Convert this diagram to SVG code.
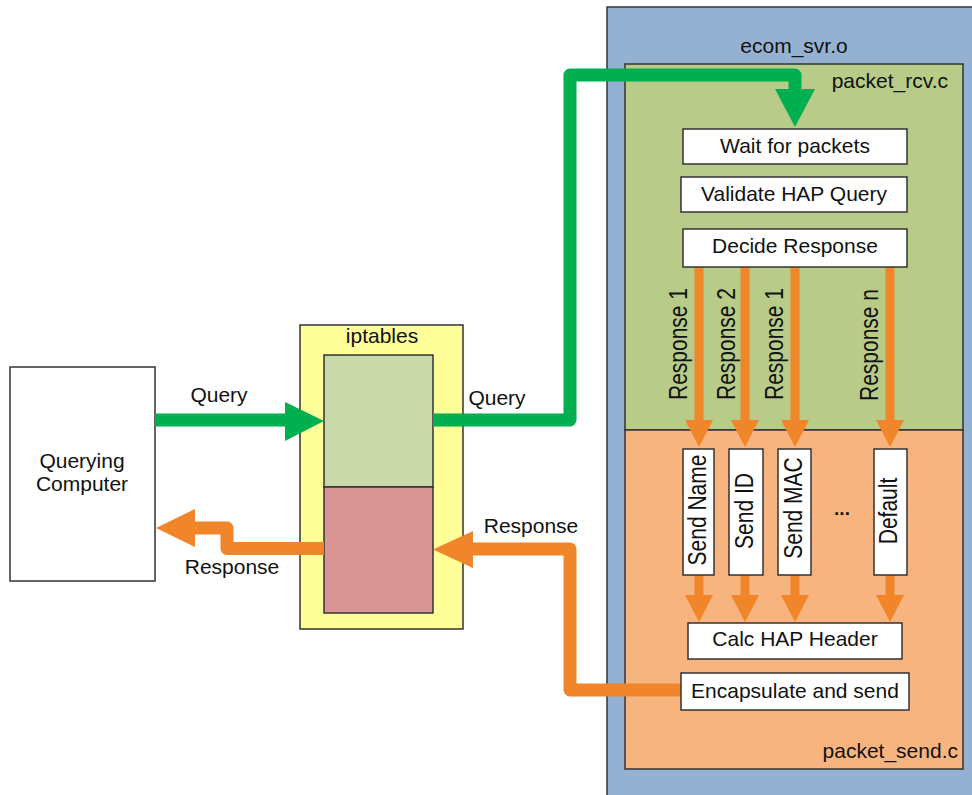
<svg xmlns="http://www.w3.org/2000/svg" width="972" height="795" viewBox="0 0 972 795">
  <style>
    text { font-family: "Liberation Sans", Arial, sans-serif; font-size: 21px; fill: #111; }
    .mid { text-anchor: middle; }
    .end { text-anchor: end; }
    .box { stroke: #333; stroke-width: 1.5; }
    .white { fill: #fff; }
    .gline { fill: none; stroke: #00B050; stroke-width: 13; stroke-linejoin: round; }
    .oline { fill: none; stroke: #F0852A; stroke-width: 13; stroke-linejoin: round; }
    .oshaft { fill: none; stroke: #F0852A; stroke-width: 9; }
    .ghead { fill: #00B050; }
    .ohead { fill: #F0852A; }
  </style>
  <defs>
    <!-- downward arrow head, tip at origin -->
    <polygon id="downHead" points="-14,-27 14,-27 0,0"/>
  </defs>

  <rect width="972" height="795" fill="#fff"/>

  <!-- server object -->
  <g id="ecom_svr">
    <rect class="box" x="607" y="7" width="372" height="800" fill="#95B1D1"/>
    <text class="mid" x="794" y="53">ecom_svr.o</text>
  </g>

  <g id="packet_rcv">
    <rect class="box" x="625" y="64" width="338" height="366" fill="#B8CB89"/>
    <text class="end" x="948" y="88">packet_rcv.c</text>
  </g>

  <g id="packet_send">
    <rect class="box" x="625" y="430" width="338" height="339" fill="#F8B47E"/>
    <text class="end" x="958" y="758">packet_send.c</text>
  </g>

  <!-- client -->
  <g id="querying_computer">
    <rect class="box white" x="10" y="367" width="145" height="214"/>
    <text class="mid" x="82" y="468">Querying</text>
    <text class="mid" x="82" y="491">Computer</text>
  </g>

  <!-- firewall -->
  <g id="iptables">
    <rect class="box" x="300" y="325" width="163" height="304" fill="#FFFF99"/>
    <text class="mid" x="382" y="343">iptables</text>
    <rect class="box" x="324" y="355" width="109" height="132" fill="#C9D9AA"/>
    <rect class="box" x="324" y="487" width="109" height="126" fill="#D99694"/>
  </g>

  <!-- connectors -->
  <g id="connectors">
    <!-- query into firewall -->
    <path class="gline" d="M155,420 H287"/>
    <polygon class="ghead" points="285,402 324,421 285,441"/>
    <!-- query from firewall to the receiver -->
    <path class="gline" d="M433,420 H570 V75 H795 V92"/>
    <polygon class="ghead" points="775,89 815,89 795,127"/>
    <!-- response back to firewall -->
    <path class="oline" d="M681,690 H570 V549 H471"/>
    <polygon class="ohead" points="473,531 473,568 433,549.5"/>
    <!-- response back to client -->
    <path class="oline" d="M324,548.5 H227 V528 H193"/>
    <polygon class="ohead" points="195,509 195,547 156,528"/>

    <!-- decision fan-out -->
    <path class="oshaft" d="M699,267 V422 M745,267 V422 M795,267 V422 M890,267 V422"/>
    <use href="#downHead" class="ohead" x="699" y="447"/>
    <use href="#downHead" class="ohead" x="745" y="447"/>
    <use href="#downHead" class="ohead" x="795" y="447"/>
    <use href="#downHead" class="ohead" x="890" y="447"/>

    <!-- into header calculation -->
    <path class="oshaft" d="M699,575 V596 M745,575 V596 M795,575 V596 M890,575 V596"/>
    <use href="#downHead" class="ohead" x="699" y="622"/>
    <use href="#downHead" class="ohead" x="745" y="622"/>
    <use href="#downHead" class="ohead" x="795" y="622"/>
    <use href="#downHead" class="ohead" x="890" y="622"/>

    <!-- connector labels -->
    <text class="mid" x="219" y="402">Query</text>
    <text class="mid" x="497" y="405">Query</text>
    <text class="mid" x="531" y="533">Response</text>
    <text class="mid" x="232" y="574">Response</text>
    <text class="mid" transform="translate(687,344) rotate(-90) scale(1,1.25)">Response 1</text>
    <text class="mid" transform="translate(735,344) rotate(-90) scale(1,1.25)">Response 2</text>
    <text class="mid" transform="translate(783,344) rotate(-90) scale(1,1.25)">Response 1</text>
    <text class="mid" transform="translate(878,345) rotate(-90) scale(1,1.25)">Response n</text>
  </g>

  <!-- receive steps -->
  <g id="wait_for_packets">
    <rect class="box white" x="683" y="129" width="224" height="35"/>
    <text class="mid" x="795" y="153">Wait for packets</text>
  </g>
  <g id="validate_query">
    <rect class="box white" x="681" y="177" width="226" height="35"/>
    <text class="mid" x="794" y="201">Validate HAP Query</text>
  </g>
  <g id="decide_response">
    <rect class="box white" x="683" y="229" width="224" height="38"/>
    <text class="mid" x="795" y="253">Decide Response</text>
  </g>

  <!-- response handlers -->
  <g id="send_name">
    <rect class="box white" x="683" y="449" width="31" height="126"/>
    <text class="mid" transform="translate(706,510) rotate(-90) scale(1,1.25)">Send Name</text>
  </g>
  <g id="send_id">
    <rect class="box white" x="729" y="449" width="34" height="126"/>
    <text class="mid" transform="translate(753,511) rotate(-90) scale(1,1.25)">Send ID</text>
  </g>
  <g id="send_mac">
    <rect class="box white" x="778" y="449" width="33" height="126"/>
    <text class="mid" transform="translate(802,508) rotate(-90) scale(1,1.25)">Send MAC</text>
  </g>
  <g id="more_handlers">
    <text class="mid" x="842" y="515" style="font-size:19px;font-weight:bold">...</text>
  </g>
  <g id="default_handler">
    <rect class="box white" x="874" y="449" width="33" height="126"/>
    <text class="mid" transform="translate(897,511) rotate(-90) scale(1,1.25)">Default</text>
  </g>

  <!-- send steps -->
  <g id="calc_header">
    <rect class="box white" x="688" y="623" width="214" height="36"/>
    <text class="mid" x="795" y="646">Calc HAP Header</text>
  </g>
  <g id="encapsulate_send">
    <rect class="box white" x="681" y="673" width="228" height="37"/>
    <text class="mid" x="795" y="698">Encapsulate and send</text>
  </g>
</svg>
